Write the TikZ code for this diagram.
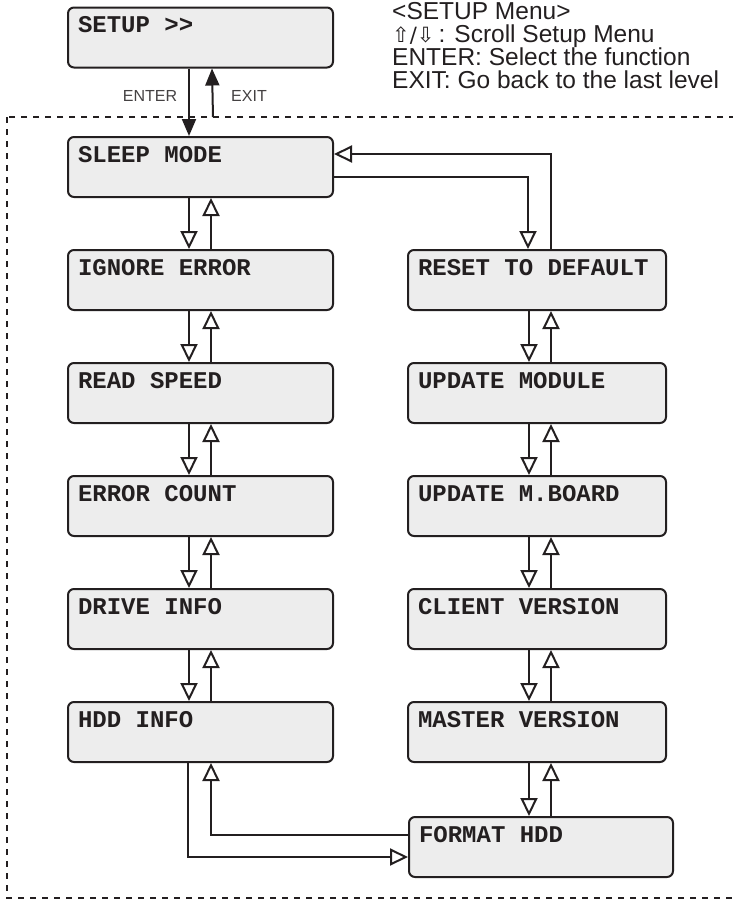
\documentclass[tikz,border=0pt]{standalone}
\usepackage{fontspec}
\setmainfont{Liberation Sans}
\newfontfamily\menufont{Liberation Mono}
\newfontfamily\symfont{DejaVu Sans}
\usetikzlibrary{arrows.meta}
\definecolor{boxgray}{HTML}{EDEDED}
\definecolor{ink}{HTML}{231F20}
\tikzset{
  menubox/.style={draw=ink, line width=2pt, rounded corners=6pt, fill=boxgray,
    minimum height=60pt, inner ysep=0pt, inner xsep=10pt, text height=25pt, text depth=35pt,
    align=flush left, font=\menufont\bfseries\fontsize{24}{24}\selectfont, text=ink},
  lbox/.style={menubox, text width=245pt},
  rbox/.style={menubox, text width=238pt},
  openarr/.style={draw=ink, line width=2pt, -{Triangle[open, length=18pt, width=17pt]}},
  fullarr/.style={draw=ink, line width=2pt, -{Triangle[length=17pt, width=14pt]}},
  keylabel/.style={font=\fontsize{16}{16}\selectfont, text=ink!85}
}
\begin{document}
\begin{tikzpicture}[x=1pt,y=-1pt]
\useasboundingbox (0,0) rectangle (732,900);
\draw[ink, line width=2.5pt, dash pattern=on 6pt off 6pt] (7,117) rectangle (760,898);
\node[lbox] (setup) at (200.5,37.5) {SETUP >>};
\node[lbox] (sleep) at (200.5,167) {SLEEP MODE};
\node[lbox] (ignore) at (200.5,280) {IGNORE ERROR};
\node[lbox] (speed) at (200.5,393) {READ SPEED};
\node[lbox] (count) at (200.5,506) {ERROR COUNT};
\node[lbox] (drive) at (200.5,619) {DRIVE INFO};
\node[lbox] (hdd) at (200.5,732) {HDD INFO};
\node[rbox] (reset) at (537,280) {RESET TO DEFAULT};
\node[rbox] (module) at (537,393) {UPDATE MODULE};
\node[rbox] (mboard) at (537,506) {UPDATE M.BOARD};
\node[rbox] (client) at (537,619) {CLIENT VERSION};
\node[rbox] (master) at (537,732) {MASTER VERSION};
\node[menubox, text width=244pt] (format) at (541,847) {FORMAT HDD};
\coordinate (exitfoot) at (213,117);
\node[keylabel] (enter) at (150,96) {ENTER};
\node[keylabel] (exit) at (249,96) {EXIT};
\node[anchor=north west, align=flush left, inner sep=0pt, text=ink,
  font=\fontsize{24.5}{23}\selectfont] (legend) at (392,2)
  {<SETUP Menu>\\{\symfont\fontsize{21}{22}\selectfont ⇧/⇩}\,: Scroll Setup Menu\\ENTER: Select the function\\EXIT: Go back to the last level};
\draw[fullarr] ([xshift=122pt]setup.south west) -- ([xshift=122pt]sleep.north west);
\draw[fullarr] (exitfoot) -- ([xshift=145pt]setup.south west);
\foreach \a/\b in {sleep/ignore, ignore/speed, speed/count, count/drive, drive/hdd,
  reset/module, module/mboard, mboard/client, client/master} {
  \draw[openarr] ([xshift=122pt]\a.south west) -- ([xshift=122pt]\b.north west);
  \draw[openarr] ([xshift=144pt]\b.north west) -- ([xshift=144pt]\a.south west);
}
\draw[openarr] ([xshift=122pt]master.south west) -- ([xshift=122pt]master.south west |- format.north);
\draw[openarr] ([xshift=144pt]master.south west |- format.north) -- ([xshift=144pt]master.south west);
\draw[openarr] ([yshift=-41pt]sleep.north east) -| ([xshift=121pt]reset.north west);
\draw[openarr] ([xshift=144pt]reset.north west) |- ([yshift=-18pt]sleep.north east);
\draw[openarr] ([xshift=121pt]hdd.south west) |- ([yshift=-41pt]format.north west);
\draw[openarr] ([yshift=-19pt]format.north west) -| ([xshift=144pt]hdd.south west);
\end{tikzpicture}
\end{document}
